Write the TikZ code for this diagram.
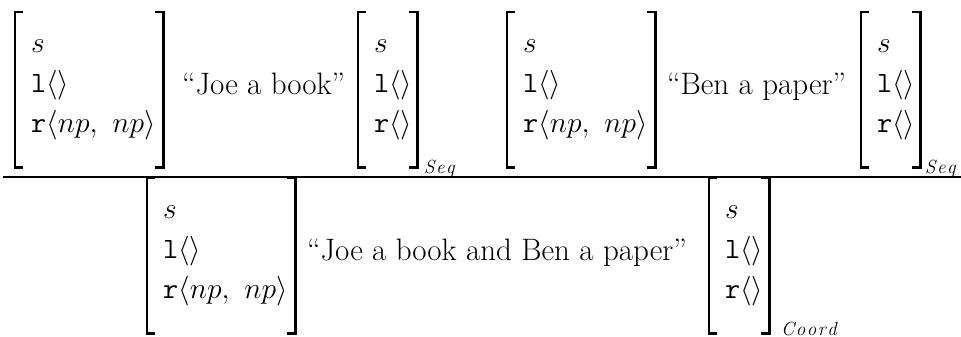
\RequirePackage{fix-cm}
\documentclass[tikz,border=0pt]{standalone}
\usepackage{fontspec}
\usepackage{tikz}

\newcommand{\avmfont}{\fontsize{29.5}{40}\selectfont}
\newcommand{\wordfont}{\fontsize{31}{40}\selectfont}
\newcommand{\tagfont}{\fontsize{19}{20}\selectfont\itshape}
\newcommand{\tagsep}{\kern1.5pt}

\begin{document}
\begin{tikzpicture}[x=1pt, y=-1pt, line cap=butt, line join=miter,
  avm/.style={anchor=north west, align=left, inner xsep=16pt, inner ysep=0pt,
    minimum height=155pt, text width=#1, font=\avmfont},
  avm/.default=116pt,
  words/.style={anchor=base west, inner sep=0pt, font=\wordfont},
  tag/.style={anchor=base west, inner sep=0pt, font=\tagfont},
  bracket/.style={line width=2.6pt},
  rulebar/.style={line width=2.6pt}]

  %% ════ premises ════
  \node[avm] (m1) at (15,12) {$s$\\ \texttt{l}$\langle\rangle$\\ \texttt{r}$\langle np,\ np\rangle$};
  \node[words] (t1) at (182,94) {“Joe a book”};
  \node[avm=27pt] (m2) at (358,12) {$s$\\ \texttt{l}$\langle\rangle$\\ \texttt{r}$\langle\rangle$};
  \node[tag] (q1) at (424,173) {S\tagsep e\tagsep q};

  \node[avm] (m3) at (507,12) {$s$\\ \texttt{l}$\langle\rangle$\\ \texttt{r}$\langle np,\ np\rangle$};
  \node[words] (t2) at (667,94) {“Ben a paper”};
  \node[avm=27pt] (m4) at (861,12) {$s$\\ \texttt{l}$\langle\rangle$\\ \texttt{r}$\langle\rangle$};
  \node[tag] (q2) at (925,173) {S\tagsep e\tagsep q};

  %% ════ inference bar ════
  \coordinate (barL) at (3,177);
  \coordinate (barR) at (961,177);
  \draw[rulebar] (barL) -- (barR);

  %% ════ conclusion ════
  \node[avm] (m5) at (147,178) {$s$\\ \texttt{l}$\langle\rangle$\\ \texttt{r}$\langle np,\ np\rangle$};
  \node[words] (t3) at (307,260) {“Joe a book and Ben a paper”};
  \node[avm=28pt] (m6) at (709,178) {$s$\\ \texttt{l}$\langle\rangle$\\ \texttt{r}$\langle\rangle$};
  \node[tag] (q3) at (781,335) {C\tagsep o\tagsep o\tagsep r\tagsep d};

  %% ════ square brackets round each matrix ════
  \foreach \m in {m1,m2,m3,m4,m5,m6} {
    \draw[bracket] ([xshift=8pt]\m.north west) -- (\m.north west) -- (\m.south west) -- ([xshift=8pt]\m.south west);
    \draw[bracket] ([xshift=-8pt]\m.north east) -- (\m.north east) -- (\m.south east) -- ([xshift=-8pt]\m.south east);
  }

  % fix the canvas to the reference size
  \pgfresetboundingbox
  \path[use as bounding box] (0,0) rectangle (961,337);
\end{tikzpicture}
\end{document}
